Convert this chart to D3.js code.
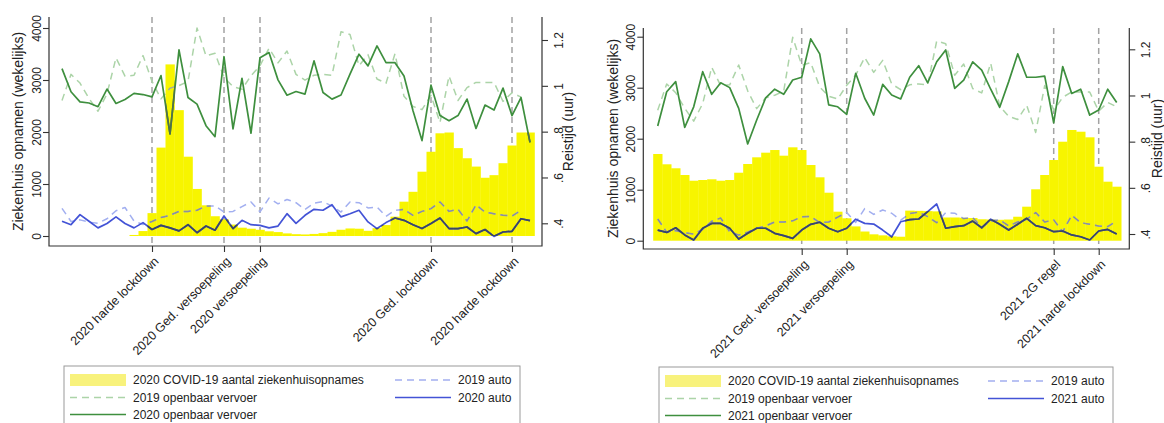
<!DOCTYPE html>
<html>
<head>
<meta charset="utf-8">
<script src="https://cdnjs.cloudflare.com/ajax/libs/d3/7.8.5/d3.min.js"></script>
<style>
body { margin: 0; background: #fff; }
svg { display: block; font-family: "Liberation Sans", Arial, Helvetica, sans-serif; }
</style>
</head>
<body>
<div id="chart"></div>
<script>
// weeks (x categories)
var weeks2019 = d3.range(1, 53);
var weeks2020 = d3.range(1, 54);
var weeks2021 = d3.range(1, 53);

// weekly hospital admissions (left axis)
var covid2020 = [0, 0, 0, 0, 0, 0, 0, 0, 20, 95, 440, 1700, 3300, 2420, 1525, 905, 590, 380, 320, 220,
    160, 140, 120, 90, 75, 50, 35, 30, 40, 55, 80, 120, 145, 140, 100, 150, 210, 372, 660, 850,
    1237, 1620, 1975, 1990, 1690, 1495, 1335, 1120, 1170, 1400, 1740, 1990, 1990];
var covid2021 = [1700, 1498, 1420, 1288, 1176, 1190, 1204, 1176, 1190, 1333, 1504, 1635, 1726, 1778, 1667, 1831, 1778, 1484, 1243, 941,
    569, 439, 280, 180, 125, 105, 85, 78, 590, 585, 580, 575, 455, 455, 450, 445, 420, 415, 410, 415,
    470, 667, 1008, 1288, 1582, 1941, 2171, 2137, 2027, 1451, 1157, 1059];

// travel time in hours (right axis)
var ov2019 = [0.936, 1.050, 1.012, 0.945, 0.889, 0.965, 1.122, 1.042, 1.046, 1.132, 1.020, 0.943, 0.990, 1.001, 1.019, 1.252, 1.131, 1.142, 1.037, 0.997,
    0.985, 1.044, 1.088, 1.164, 1.100, 1.152, 1.050, 1.025, 1.046, 1.050, 1.046, 1.236, 1.224, 1.088, 1.136, 1.030, 1.011, 1.140, 0.954, 0.910,
    0.896, 0.958, 0.840, 1.043, 0.936, 0.992, 1.015, 1.015, 1.015, 0.932, 0.970, 0.951];
var auto2019 = [0.465, 0.408, 0.415, 0.405, 0.400, 0.420, 0.455, 0.469, 0.410, 0.395, 0.408, 0.425, 0.435, 0.452, 0.452, 0.457, 0.475, 0.476, 0.449, 0.452,
    0.473, 0.493, 0.450, 0.510, 0.485, 0.504, 0.490, 0.460, 0.488, 0.495, 0.475, 0.449, 0.493, 0.490, 0.467, 0.471, 0.430, 0.457, 0.461, 0.435,
    0.452, 0.464, 0.493, 0.452, 0.461, 0.410, 0.481, 0.449, 0.442, 0.435, 0.432, 0.457];
var ov2020 = [1.075, 0.974, 0.930, 0.925, 0.909, 0.986, 0.923, 0.940, 0.967, 0.962, 0.952, 1.045, 0.790, 1.157, 0.949, 0.920, 0.826, 0.778, 1.127, 0.812,
    1.033, 0.793, 1.123, 1.145, 1.026, 0.959, 0.975, 0.964, 1.109, 0.971, 0.942, 0.960, 1.051, 1.138, 1.087, 1.174, 1.101, 1.101, 1.043, 0.891,
    0.761, 1.003, 0.870, 0.848, 0.870, 0.942, 0.814, 0.916, 0.894, 0.990, 0.870, 0.949, 0.753];
var auto2020 = [0.409, 0.394, 0.438, 0.409, 0.380, 0.399, 0.428, 0.399, 0.380, 0.403, 0.373, 0.391, 0.380, 0.367, 0.394, 0.359, 0.388, 0.370, 0.432, 0.377,
    0.413, 0.394, 0.391, 0.380, 0.388, 0.442, 0.400, 0.435, 0.461, 0.457, 0.481, 0.428, 0.442, 0.457, 0.406, 0.377, 0.403, 0.423, 0.413, 0.394,
    0.377, 0.399, 0.423, 0.377, 0.377, 0.384, 0.355, 0.373, 0.343, 0.362, 0.365, 0.420, 0.412];
var ov2021 = [0.868, 1.016, 1.060, 0.862, 0.951, 1.103, 1.005, 1.055, 1.034, 0.944, 0.790, 0.894, 0.990, 1.027, 1.005, 1.067, 1.079, 1.245, 1.180, 0.959,
    0.951, 0.918, 1.096, 0.988, 0.915, 1.048, 1.002, 0.985, 1.079, 1.129, 1.055, 1.146, 1.197, 1.031, 1.067, 1.146, 1.110, 1.027, 0.949, 1.060,
    1.180, 1.079, 1.079, 1.084, 0.882, 1.125, 1.009, 1.027, 0.915, 0.937, 1.027, 0.970];
var auto2021 = [0.417, 0.407, 0.427, 0.396, 0.374, 0.425, 0.446, 0.446, 0.425, 0.378, 0.403, 0.425, 0.425, 0.403, 0.393, 0.381, 0.417, 0.442, 0.451, 0.425,
    0.410, 0.425, 0.464, 0.446, 0.443, 0.417, 0.388, 0.453, 0.462, 0.465, 0.497, 0.530, 0.425, 0.432, 0.436, 0.456, 0.427, 0.464, 0.442, 0.417,
    0.442, 0.468, 0.436, 0.427, 0.410, 0.413, 0.396, 0.388, 0.374, 0.413, 0.420, 0.400];

// measures (x-axis ticks)
var eventWeeks2020 = [11, 19, 23, 42, 51];
var eventLabels2020 = ["2020 harde lockdown", "2020 Ged. versoepeling", "2020 versoepeling", "2020 Ged. lockdown", "2020 harde lockdown"];
var eventWeeks2021 = [17, 22, 45, 50];
var eventLabels2021 = ["2021 Ged. versoepeling", "2021 versoepeling", "2021 2G regel", "2021 harde lockdown"];

var countTicks = [0, 1000, 2000, 3000, 4000];
var timeTicks = [0.4, 0.6, 0.8, 1, 1.2];

var colors = {
    bar: "#f7f500", barKey: "#f8f27c",
    ov: "#3e8f3e", ovOver: "#50704a",
    ov19: "#acd4a8", ov19Over: "#a8ad90",
    auto: "#4353d6", autoOver: "#3b4764",
    auto19: "#a2aff0", auto19Over: "#8d9197",
    ref: "#a3a3a3", axis: "#333", text: "#222"
};

var svg = d3.select("#chart").append("svg")
    .attr("width", 1164)
    .attr("height", 423);

svg.append("rect").attr("width", 1164).attr("height", 423).attr("fill", "#fff");

function drawPanel(cfg) {
    var x = d3.scaleLinear().domain([1, cfg.weeks.length]).range(cfg.xRange);
    var yCount = d3.scaleLinear().domain([0, 4000]).range(cfg.yCount);
    var yTime = d3.scaleLinear().domain([0.4, 1.2]).range(cfg.yTime);

    var g = svg.append("g").attr("class", cfg.id);

    // reference lines for the measures
    g.append("g")
        .selectAll("line")
        .data(cfg.events)
        .join("line")
        .attr("x1", function(d) { return x(d); })
        .attr("x2", function(d) { return x(d); })
        .attr("y1", cfg.frameY[0])
        .attr("y2", cfg.frameY[1])
        .attr("stroke", colors.ref)
        .attr("stroke-width", 1.5)
        .attr("stroke-dasharray", "6,4");

    var barData = cfg.weeks.map(function(w, i) { return {w: w, v: cfg.bars[i]}; })
        .filter(function(d) { return d.v > 0; });

    function barAttrs(sel) {
        sel.attr("x", function(d) { return x(d.w - 0.5); })
            .attr("width", function(d) { return x(d.w + 0.5) - x(d.w - 0.5) + 0.3; })
            .attr("y", function(d) { return yCount(d.v); })
            .attr("height", function(d) { return yCount(0) - yCount(d.v); });
    }

    g.append("g")
        .selectAll("rect")
        .data(barData)
        .join("rect")
        .call(barAttrs)
        .attr("fill", colors.bar);

    // clip with the bars so line parts on top of yellow can be darkened
    svg.append("clipPath")
        .attr("id", cfg.id + "-clip")
        .selectAll("rect")
        .data(barData)
        .join("rect")
        .call(barAttrs);

    var line = d3.line()
        .x(function(d) { return x(d.w); })
        .y(function(d) { return yTime(d.v); });

    cfg.series.forEach(function(s) {
        var data = s.weeks.map(function(w, i) { return {w: w, v: s.values[i]}; });
        g.append("path")
            .datum(data)
            .attr("d", line)
            .attr("fill", "none")
            .attr("stroke", s.color)
            .attr("stroke-width", s.dash ? 1.5 : 1.7)
            .attr("stroke-dasharray", s.dash ? "7,5" : null)
            .attr("stroke-linejoin", "round");
        g.append("path")
            .datum(data)
            .attr("d", line)
            .attr("clip-path", "url(#" + cfg.id + "-clip)")
            .attr("fill", "none")
            .attr("stroke", s.over)
            .attr("stroke-width", s.dash ? 1.5 : 1.7)
            .attr("stroke-dasharray", s.dash ? "7,5" : null)
            .attr("stroke-linejoin", "round");
    });

    // frame: left, right, bottom
    var fx = cfg.frameX, fy = cfg.frameY;
    g.append("path")
        .attr("d", "M" + fx[0] + "," + fy[0] + "V" + fy[1] + "H" + fx[1] + "V" + fy[0])
        .attr("fill", "none")
        .attr("stroke", colors.axis)
        .attr("stroke-width", 1.2);

    function styleY(s, offset) {
        s.select(".domain").remove();
        s.attr("font-family", null).attr("font-size", 12);
        s.selectAll(".tick line").attr("stroke", colors.axis).attr("stroke-width", 1.1);
        s.selectAll(".tick text")
            .attr("fill", colors.text)
            .attr("transform", "rotate(-90)")
            .attr("text-anchor", "middle")
            .attr("x", 0)
            .attr("y", offset)
            .attr("dy", 0);
    }

    g.append("g")
        .attr("transform", "translate(" + fx[0] + ",0)")
        .call(d3.axisLeft(yCount).tickValues(countTicks).tickSize(6).tickFormat(d3.format("d")))
        .call(styleY, -8);

    g.append("g")
        .attr("transform", "translate(" + fx[1] + ",0)")
        .call(d3.axisRight(yTime).tickValues(timeTicks).tickSize(6)
            .tickFormat(function(d) { return d === 1 ? "1" : String(d).replace(/^0/, ""); }))
        .call(styleY, cfg.rightLabel);

    var xAxis = g.append("g")
        .attr("transform", "translate(0," + fy[1] + ")")
        .call(d3.axisBottom(x).tickValues(cfg.events).tickSize(6)
            .tickFormat(function(d) { return cfg.eventLabels[cfg.events.indexOf(d)]; }));
    xAxis.select(".domain").remove();
    xAxis.attr("font-family", null).attr("font-size", 12.5);
    xAxis.selectAll(".tick line").attr("stroke", colors.axis).attr("stroke-width", 1.1);
    xAxis.selectAll(".tick text")
        .attr("fill", colors.text)
        .attr("y", 0)
        .attr("dy", 0)
        .attr("text-anchor", "end")
        .attr("transform", "translate(7,16) rotate(-45)");

    // axis titles
    var titleY = (fy[0] + fy[1]) / 2;
    g.append("text")
        .attr("transform", "translate(" + (fx[0] + cfg.leftTitle) + "," + titleY + ") rotate(-90)")
        .attr("text-anchor", "middle")
        .attr("font-size", 14)
        .attr("fill", colors.text)
        .text("Ziekenhuis opnamen (wekelijks)");
    g.append("text")
        .attr("transform", "translate(" + (fx[1] + cfg.rightTitle) + "," + titleY + ") rotate(-90)")
        .attr("text-anchor", "middle")
        .attr("font-size", 14)
        .attr("fill", colors.text)
        .text("Reistijd (uur)");

    // legend
    var lg = cfg.legend;
    var leg = svg.append("g").attr("transform", "translate(" + lg.x + "," + lg.y + ")");
    leg.append("rect")
        .attr("x", 0).attr("y", 0)
        .attr("width", lg.w).attr("height", 70)
        .attr("fill", "#fff")
        .attr("stroke", "#9a9a9a")
        .attr("stroke-width", 1);

    var rowY = [14, 31.5, 48.5];
    var items = leg.selectAll(".item")
        .data(cfg.legendItems)
        .join("g")
        .attr("class", "item")
        .attr("transform", function(d) {
            return "translate(" + lg.cols[d.col] + "," + rowY[d.row] + ")";
        });

    items.filter(function(d) { return d.key === "bar"; })
        .append("rect")
        .attr("x", 0).attr("y", -6)
        .attr("width", 56).attr("height", 12)
        .attr("fill", colors.barKey);

    items.filter(function(d) { return d.key !== "bar"; })
        .append("line")
        .attr("x1", 0).attr("x2", 56)
        .attr("stroke", function(d) { return colors[d.key]; })
        .attr("stroke-width", 1.6)
        .attr("stroke-dasharray", function(d) { return d.dash ? "7,5" : null; });

    items.append("text")
        .attr("x", 63)
        .attr("dy", "0.35em")
        .attr("font-size", 12)
        .attr("fill", colors.text)
        .text(function(d) { return d.label; });
}

drawPanel({
    id: "p2020",
    weeks: weeks2020,
    bars: covid2020,
    events: eventWeeks2020,
    eventLabels: eventLabels2020,
    xRange: [62, 530],
    frameX: [49, 542],
    frameY: [17, 246],
    yCount: [236, 28],
    yTime: [223.3, 40],
    rightLabel: 21,
    leftTitle: -26,
    rightTitle: 31,
    series: [
        {weeks: weeks2019, values: ov2019, color: colors.ov19, over: colors.ov19Over, dash: true},
        {weeks: weeks2019, values: auto2019, color: colors.auto19, over: colors.auto19Over, dash: true},
        {weeks: weeks2020, values: ov2020, color: colors.ov, over: colors.ovOver, dash: false},
        {weeks: weeks2020, values: auto2020, color: colors.auto, over: colors.autoOver, dash: false}
    ],
    legend: {x: 64, y: 366, w: 456, cols: [6, 331]},
    legendItems: [
        {label: "2020 COVID-19 aantal ziekenhuisopnames", key: "bar", col: 0, row: 0},
        {label: "2019 openbaar vervoer", key: "ov19", dash: true, col: 0, row: 1},
        {label: "2020 openbaar vervoer", key: "ov", dash: false, col: 0, row: 2},
        {label: "2019 auto", key: "auto19", dash: true, col: 1, row: 0},
        {label: "2020 auto", key: "auto", dash: false, col: 1, row: 1}
    ]
});

drawPanel({
    id: "p2021",
    weeks: weeks2021,
    bars: covid2021,
    events: eventWeeks2021,
    eventLabels: eventLabels2021,
    xRange: [657.7, 1116.7],
    frameX: [643.3, 1129.3],
    frameY: [28, 249],
    yCount: [240.7, 36.7],
    yTime: [234, 49.3],
    rightLabel: 21,
    leftTitle: -25.5,
    rightTitle: 33,
    series: [
        {weeks: weeks2019, values: ov2019, color: colors.ov19, over: colors.ov19Over, dash: true},
        {weeks: weeks2019, values: auto2019, color: colors.auto19, over: colors.auto19Over, dash: true},
        {weeks: weeks2021, values: ov2021, color: colors.ov, over: colors.ovOver, dash: false},
        {weeks: weeks2021, values: auto2021, color: colors.auto, over: colors.autoOver, dash: false}
    ],
    legend: {x: 659, y: 367, w: 454, cols: [6, 329]},
    legendItems: [
        {label: "2020 COVID-19 aantal ziekenhuisopnames", key: "bar", col: 0, row: 0},
        {label: "2019 openbaar vervoer", key: "ov19", dash: true, col: 0, row: 1},
        {label: "2021 openbaar vervoer", key: "ov", dash: false, col: 0, row: 2},
        {label: "2019 auto", key: "auto19", dash: true, col: 1, row: 0},
        {label: "2021 auto", key: "auto", dash: false, col: 1, row: 1}
    ]
});
</script>
</body>
</html>
